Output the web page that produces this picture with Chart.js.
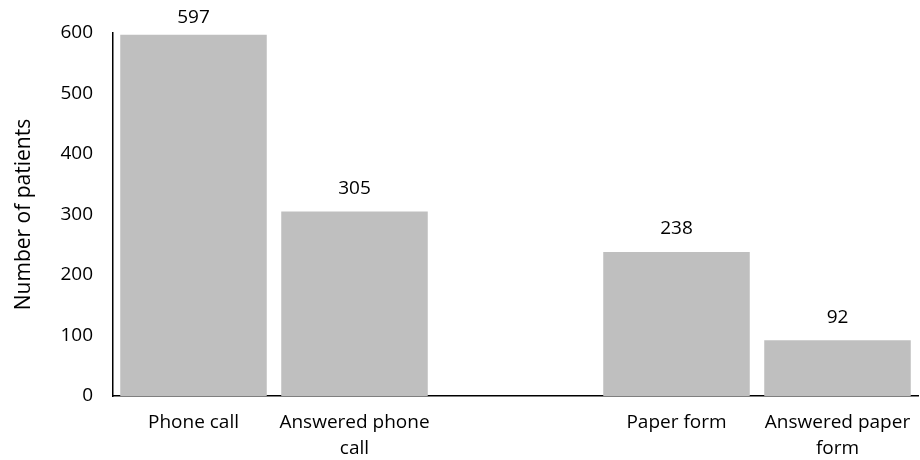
<!DOCTYPE html>
<html><head><meta charset="utf-8">
<script src="https://cdn.jsdelivr.net/npm/chart.js@4"></script>
<style>html,body{margin:0;padding:0;background:#fff}#wrap{width:920px;height:460px}</style>
</head><body><div id="wrap"><canvas id="c" width="920" height="460"></canvas></div>
<script>
const categories = ['Phone call', ['Answered phone', 'call'], '', 'Paper form', ['Answered paper', 'form']];
const patients = [597, 305, null, 238, 92];
const yTicks = [0, 100, 200, 300, 400, 500, 600];
const yTitle = 'Number of patients';

const FONT = "'Open Sans', sans-serif";

const valueLabels = {
  id: 'valueLabels',
  afterDatasetsDraw(chart) {
    const ctx = chart.ctx;
    const meta = chart.getDatasetMeta(0);
    ctx.save();
    ctx.font = "19px " + FONT;
    ctx.fillStyle = '#000';
    ctx.textAlign = 'center';
    ctx.textBaseline = 'middle';
    meta.data.forEach((bar, i) => {
      const v = chart.data.datasets[0].data[i];
      if (v == null) return;
      const y = Math.max(bar.y - 23, 18);
      ctx.fillText(String(v), bar.x, y);
    });
    ctx.restore();
  }
};

new Chart(document.getElementById('c'), {
  type: 'bar',
  data: {
    labels: categories,
    datasets: [{
      data: patients,
      backgroundColor: '#BFBFBF',
      borderWidth: 0,
      categoryPercentage: 1,
      barPercentage: 0.91
    }]
  },
  options: {
    responsive: false,
    animation: false,
    layout: { padding: { top: 33, right: 2, left: 11, bottom: 0 } },
    plugins: { legend: { display: false }, tooltip: { enabled: false } },
    scales: {
      x: {
        grid: { display: false, drawTicks: false },
        border: { display: true, color: '#000', width: 1.5 },
        ticks: { color: '#000', font: { family: FONT, size: 19, lineHeight: 1.35 }, padding: 14, maxRotation: 0, autoSkip: false },
        afterFit(s) { s.height = 64; s.paddingLeft = 0; s.paddingRight = 0; }
      },
      y: {
        min: 0, max: 600,
        afterBuildTicks(s) { s.ticks = yTicks.map(v => ({ value: v })); },
        grid: { display: false, drawTicks: false },
        border: { display: true, color: '#000', width: 1.5 },
        ticks: { color: '#000', font: { family: FONT, size: 19 }, padding: 20 },
        title: { display: true, text: yTitle, color: '#000', font: { family: FONT, size: 21 }, padding: 0 },
        afterFit(s) { s.width = 102; s.paddingTop = 0; s.paddingBottom = 0; }
      }
    }
  },
  plugins: [valueLabels]
});
</script>
</body></html>
